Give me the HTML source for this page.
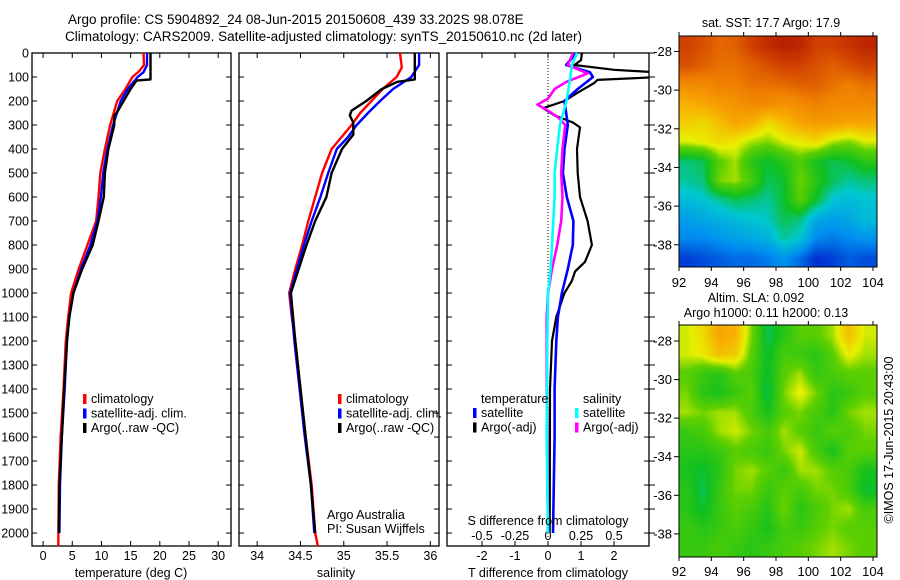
<!DOCTYPE html>
<html><head><meta charset="utf-8"><style>
html,body{margin:0;padding:0;background:#fff;}
#wrap{position:relative;width:900px;height:580px;overflow:hidden;font-family:"Liberation Sans",sans-serif;}
canvas{position:absolute;}
svg{position:absolute;left:0;top:0;}
svg text{font-family:"Liberation Sans",sans-serif;font-size:12.5px;fill:#000;}
</style></head><body>
<div id="wrap">
<canvas id="sst" width="198" height="231" style="left:679px;top:36px"></canvas>
<canvas id="sla" width="198" height="232" style="left:679px;top:325px"></canvas>
<svg id="fig" width="900" height="580"></svg>
</div>
<script>
// ---- data ----
const tempClimDepth=[0,50,75,100,150,200,300,400,500,600,700,800,900,1000,1100,1200,1400,1600,1800,2054];
const tempClimVal=[17.2,17.3,16.5,15.3,14.1,12.7,11.5,10.6,9.8,9.5,9.1,7.6,6.1,4.8,4.3,3.9,3.5,3.0,2.7,2.6];
const tempSatDepth=[0,50,80,100,150,200,300,400,500,600,700,800,900,1000,1100,1200,1400,1600,1800,2000];
const tempSatVal=[17.8,17.8,17.2,16.2,14.5,13.3,12.0,11.0,10.3,9.9,9.3,8.1,6.5,5.2,4.5,4.1,3.7,3.2,2.9,2.8];
const tempArgoDepth=[0,110,115,150,200,250,260,300,400,500,600,700,800,900,1000,1100,1200,1400,1600,1800,2000];
const tempArgoVal=[18.4,18.4,16.0,15.0,13.8,12.6,12.2,12.2,11.2,10.6,10.4,9.5,8.5,6.7,5.2,4.5,4.1,3.6,3.2,2.8,2.7];
const salClimDepth=[0,60,100,150,200,250,300,400,500,600,700,800,900,1000,1100,1200,1400,1600,1800,2000,2054];
const salClimVal=[35.65,35.67,35.61,35.45,35.32,35.19,35.09,34.86,34.75,34.67,34.59,34.52,34.44,34.37,34.40,34.44,34.50,34.56,34.63,34.67,34.70];
const salSatDepth=[0,50,100,150,200,250,300,350,400,500,600,700,800,900,1000,1200,1400,1600,1800,2000];
const salSatVal=[35.87,35.87,35.78,35.57,35.42,35.28,35.15,35.05,34.92,34.82,34.73,34.63,34.54,34.46,34.38,34.43,34.49,34.55,34.62,34.66];
const salArgoDepth=[0,110,120,150,200,240,260,290,340,400,500,600,700,800,900,1000,1200,1400,1600,1800,2000];
const salArgoVal=[35.82,35.82,35.62,35.44,35.26,35.09,35.07,35.11,35.11,34.98,34.86,34.80,34.67,34.57,34.48,34.39,34.44,34.50,34.56,34.62,34.67];
const dTArgoDepth=[0,30,50,70,83,100,112,125,167,200,230,260,290,310,400,500,600,700,800,870,910,950,1000,1100,1200,1400,2000];
const dTArgoVal=[1.03,1.0,0.8,2.0,3.6,3.4,1.5,1.4,0.88,0.5,-0.15,0.2,0.76,0.97,0.88,0.9,0.97,1.2,1.33,1.12,0.82,0.72,0.5,0.25,0.12,0.06,0.05];
const dTSatDepth=[0,50,80,100,120,150,200,300,400,500,600,700,800,900,1000,1100,1200,1400,1600,2000];
const dTSatVal=[0.85,0.55,1.27,1.36,1.18,0.9,0.5,0.6,0.5,0.45,0.57,0.77,0.75,0.6,0.42,0.3,0.25,0.2,0.2,0.15];
const dSArgoDepth=[0,50,85,120,150,190,215,240,270,300,400,500,600,700,800,900,1000,1100,1400,2000];
const dSArgoVal=[0.19,0.15,0.3,0.14,0.05,0,-0.08,0,0.08,0.13,0.11,0.1,0.11,0.1,0.07,0.03,0,-0.01,-0.01,0];
const dSSatDepth=[0,50,100,200,300,400,500,600,700,800,900,1000,1200,1600,2000];
const dSSatVal=[0.22,0.18,0.17,0.14,0.09,0.07,0.05,0.05,0.04,0.03,0.02,0,-0.005,-0.01,0];
const depthTicks=[0,100,200,300,400,500,600,700,800,900,1000,1100,1200,1300,1400,1500,1600,1700,1800,1900,2000];
const tempTicks=[0,5,10,15,20,25,30];
const salTicks=[34,34.5,35,35.5,36];
const dTTicks=[-2,-1,0,1,2];
const dSTicks=[-0.5,-0.25,0,0.25,0.5];
const dSTickLabels=["-0.5","-0.25","0","0.25","0.5"];
const lonTicks=[92,94,96,98,100,102,104];
const latTicks=[-28,-30,-32,-34,-36,-38];
const sstGrid=[
[.90,.88,.85,.86,.90,.93,.95,.94,.90,.90,.92,.94],
[.88,.86,.84,.84,.86,.88,.90,.90,.88,.86,.88,.90],
[.80,.80,.82,.82,.84,.84,.85,.86,.86,.84,.82,.84],
[.72,.74,.76,.78,.80,.80,.78,.80,.82,.80,.80,.80],
[.68,.66,.70,.74,.72,.66,.70,.74,.76,.76,.74,.74],
[.62,.64,.66,.64,.60,.58,.62,.64,.66,.60,.58,.62],
[.42,.44,.56,.60,.50,.46,.50,.55,.48,.44,.46,.50],
[.40,.42,.58,.60,.54,.44,.46,.58,.50,.44,.40,.42],
[.34,.36,.40,.44,.42,.40,.46,.56,.46,.36,.34,.36],
[.28,.30,.32,.34,.36,.38,.44,.42,.30,.28,.30,.34],
[.24,.24,.26,.28,.30,.32,.40,.36,.24,.22,.24,.26],
[.14,.16,.18,.20,.20,.22,.26,.20,.12,.14,.18,.16]];
const slaGrid=[
[.62,.66,.74,.72,.58,.44,.50,.56,.56,.60,.70,.62],
[.62,.64,.70,.68,.56,.46,.54,.52,.50,.56,.64,.60],
[.56,.52,.50,.56,.54,.46,.56,.60,.52,.54,.56,.56],
[.58,.50,.48,.52,.56,.44,.58,.64,.58,.50,.52,.56],
[.60,.58,.60,.60,.54,.48,.56,.58,.54,.50,.58,.60],
[.52,.54,.60,.62,.58,.54,.60,.56,.52,.56,.54,.58],
[.50,.50,.52,.56,.54,.52,.58,.62,.54,.48,.56,.56],
[.48,.46,.50,.58,.60,.56,.52,.60,.60,.56,.54,.48],
[.50,.44,.52,.58,.58,.52,.56,.54,.58,.58,.54,.46],
[.50,.46,.52,.56,.54,.50,.58,.50,.54,.58,.60,.54],
[.52,.50,.52,.54,.52,.48,.54,.52,.56,.58,.56,.56],
[.52,.52,.54,.52,.50,.52,.54,.56,.58,.60,.58,.56]];

// ---- helpers ----
const NS="http://www.w3.org/2000/svg";
const svg=document.getElementById('fig');
function lin(d0,d1,r0,r1){return v=>r0+(v-d0)*(r1-r0)/(d1-d0);}
function mk(tag,attrs,parent){const e=document.createElementNS(NS,tag);for(const k in attrs)e.setAttribute(k,attrs[k]);(parent||svg).appendChild(e);return e;}
function txt(x,y,s,anchor,parent){const t=mk('text',{x:x,y:y,'text-anchor':anchor||'start'},parent);t.textContent=s;return t;}
const yD=lin(0,2054,53,546);
const P1={l:32,r:231},P2={l:239,r:439},P3={l:447,r:649};
const ptop=53,pbot=546;
const xT=lin(-1.9,32.2,P1.l,P1.r);
const xS=lin(33.79,36.1,P2.l,P2.r);
const xdT=lin(-3.06,3.06,P3.l,P3.r);
const xdS=lin(-0.765,0.765,P3.l,P3.r);

// titles
let t=txt(68,24,"Argo profile: CS 5904892_24 08-Jun-2015 20150608_439 33.202S 98.078E");t.setAttribute('style','font-size:13.5px');


t=txt(65,41,"Climatology: CARS2009. Satellite-adjusted climatology: synTS_20150610.nc (2d later)");t.setAttribute('style','font-size:13.5px');



// clip
const defs=mk('defs',{});
[P1,P2,P3].forEach((p,i)=>{const c=mk('clipPath',{id:'c'+i},defs);mk('rect',{x:p.l,y:ptop-1,width:p.r-p.l,height:pbot-ptop+1},c);});

function frame(p,name){
  const g=mk('g',{});
  
  
  mk('rect',{x:p.l,y:ptop,width:p.r-p.l,height:pbot-ptop,fill:'none',stroke:'#000','stroke-width':1.3},g);
  depthTicks.forEach(d=>{const y=yD(d);mk('line',{x1:p.l,x2:p.l+5,y1:y,y2:y,stroke:'#000'},g);mk('line',{x1:p.r,x2:p.r-5,y1:y,y2:y,stroke:'#000'},g);});
  return g;
}
function series(g,xs,ds,vs,color,name,clip,w){
  const pts=ds.map((d,i)=>xs(vs[i]).toFixed(1)+','+yD(d).toFixed(1)).join(' ');
  const pl=mk('polyline',{points:pts,fill:'none',stroke:color,'stroke-width':w||2.4,'stroke-linejoin':'round','clip-path':'url(#'+clip+')'},g);
  
  
}
function xticks(g,p,xs,ticks,labels,ly){
  ticks.forEach((v,i)=>{const x=xs(v);
    mk('line',{x1:x,x2:x,y1:pbot,y2:pbot-5,stroke:'#000'},g);
    mk('line',{x1:x,x2:x,y1:ptop,y2:ptop+5,stroke:'#000'},g);
    if(labels){const tt=txt(x,ly,labels[i],'middle',g);}
  });
}
function legend(g,x,y,items){
  items.forEach((it,i)=>{const yy=y+i*14.5;
    mk('rect',{x:x,y:yy-9,width:3.5,height:10,fill:it[1]},g);
    const tt=txt(x+8,yy,it[0],'start',g);
    
    
  });
}

// depth labels
depthTicks.forEach(d=>{const tt=txt(29,yD(d)+4.5,String(d),'end');});

// panel 1
const g1=frame(P1,'temperature-panel');
xticks(g1,P1,xT,tempTicks,tempTicks.map(String),560);
series(g1,xT,tempClimDepth,tempClimVal,'#f00','temp-climatology-line','c0');
series(g1,xT,tempSatDepth,tempSatVal,'#00f','temp-satellite-line','c0');
series(g1,xT,tempArgoDepth,tempArgoVal,'#000','temp-argo-line','c0');
txt(131,577,'temperature (deg C)','middle',g1);
legend(g1,83,403,[['climatology','#f00'],['satellite-adj. clim.','#00f'],['Argo(..raw -QC)','#000']]);

// panel 2
const g2=frame(P2,'salinity-panel');
xticks(g2,P2,xS,salTicks,salTicks.map(String),560);
series(g2,xS,salClimDepth,salClimVal,'#f00','sal-climatology-line','c1');
series(g2,xS,salSatDepth,salSatVal,'#00f','sal-satellite-line','c1');
series(g2,xS,salArgoDepth,salArgoVal,'#000','sal-argo-line','c1');
txt(336,577,'salinity','middle',g2);
legend(g2,338,403,[['climatology','#f00'],['satellite-adj. clim.','#00f'],['Argo(..raw -QC)','#000']]);
txt(327,519,'Argo Australia','start',g2);
txt(327,533,'PI: Susan Wijffels','start',g2);

// panel 3
const g3=frame(P3,'difference-panel');
depthTicks.forEach(d=>{const y=yD(d);mk('line',{x1:P3.r,x2:P3.r+6,y1:y,y2:y,stroke:'#000'},g3);});
xticks(g3,P3,xdT,dTTicks,dTTicks.map(String),560);
dSTicks.forEach((v,i)=>{const tt=txt(xdS(v),540,dSTickLabels[i],'middle',g3);});
mk('line',{x1:xdT(0),x2:xdT(0),y1:ptop,y2:pbot,stroke:'#000','stroke-dasharray':'1,2','stroke-width':1},g3);
series(g3,xdT,dTArgoDepth,dTArgoVal,'#000','dT-argo-line','c2',2.2);
series(g3,xdT,dTSatDepth,dTSatVal,'#00f','dT-satellite-line','c2',2.6);
series(g3,xdS,dSArgoDepth,dSArgoVal,'#f0f','dS-argo-line','c2',2.6);
series(g3,xdS,dSSatDepth,dSSatVal,'#0ff','dS-satellite-line','c2',2.6);
txt(548,525,'S difference from climatology','middle',g3);
txt(548,577,'T difference from climatology','middle',g3);
txt(481,403,'temperature','start',g3);
txt(583,403,'salinity','start',g3);
legend(g3,473,417,[['satellite','#00f'],['Argo(-adj)','#000']]);
legend(g3,575,417,[['satellite','#0ff'],['Argo(-adj)','#f0f']]);

// maps
const xLon=lin(92,104,679,873);
function mapAxes(name,y0,y1,latFn,ly){
  const g=mk('g',{});
  
  
  mk('rect',{x:679,y:y0,width:198,height:y1-y0,fill:'none',stroke:'#000','stroke-width':1},g);
  lonTicks.forEach(v=>{const x=xLon(v);mk('line',{x1:x,x2:x,y1:y0,y2:y0-4,stroke:'#000'},g);mk('line',{x1:x,x2:x,y1:y1,y2:y1+4,stroke:'#000'},g);
    const tt=txt(x,ly,String(v),'middle',g);tt.setAttribute('style','font-size:13px');});
  latTicks.forEach(v=>{const y=latFn(v);mk('line',{x1:679,x2:674,y1:y,y2:y,stroke:'#000'},g);
    const tt=txt(672,y+4.5,String(v),'end',g);tt.setAttribute('style','font-size:13px');});
  return g;
}
const lat1=lin(-27.2,-39.15,36,267), lat2=lin(-27.17,-39.2,325,557);
mapAxes('sst-map-axes',36,267,lat1,287);
mapAxes('sla-map-axes',325,557,lat2,576);
txt(771,27,'sat. SST: 17.7 Argo: 17.9','middle');
txt(756,302,'Altim. SLA: 0.092','middle');
txt(766,317,'Argo h1000: 0.11 h2000: 0.13','middle');
t=mk('text',{x:0,y:0,transform:'translate(893,440) rotate(-90)','text-anchor':'middle'});t.textContent='©IMOS 17-Jun-2015 20:43:00';



// colormap
const stops=[[0,[0,0,138]],[0.12,[0,48,208]],[0.25,[0,144,240]],[0.37,[0,200,208]],[0.47,[16,192,32]],[0.57,[96,208,0]],[0.63,[232,240,0]],[0.72,[248,176,0]],[0.82,[240,128,0]],[0.9,[208,64,0]],[1,[160,0,0]]];
function cmap(v){v=Math.max(0,Math.min(1,v));for(let i=1;i<stops.length;i++){if(v<=stops[i][0]){const a=stops[i-1],b=stops[i],f=(v-a[0])/(b[0]-a[0]);return a[1].map((c,k)=>Math.round(c+(b[1][k]-c)*f));}}return stops[stops.length-1][1];}
function drawMap(id,grid,latTop,latBot){
  const cv=document.getElementById(id),ctx=cv.getContext('2d'),W=cv.width,H=cv.height;
  const img=ctx.createImageData(W,H);
  for(let py=0;py<H;py++)for(let px=0;px<W;px++){
    const lon=92+(px+0.5)*(104.25-92)/W, lat=latTop+(py+0.5)*(latBot-latTop)/H;
    let ci=Math.max(0,Math.min(10.999,lon-92.5)), rj=Math.max(0,Math.min(10.999,(-27.7)-lat));
    const i0=Math.floor(ci),j0=Math.floor(rj),fx=ci-i0,fy=rj-j0;
    const v=grid[j0][i0]*(1-fx)*(1-fy)+grid[j0][i0+1]*fx*(1-fy)+grid[j0+1][i0]*(1-fx)*fy+grid[j0+1][i0+1]*fx*fy;
    const c=cmap(v),k=(py*W+px)*4;img.data[k]=c[0];img.data[k+1]=c[1];img.data[k+2]=c[2];img.data[k+3]=255;
  }
  ctx.putImageData(img,0,0);
}
drawMap('sst',sstGrid,-27.2,-39.15);
drawMap('sla',slaGrid,-27.17,-39.2);
</script>
</body></html>
